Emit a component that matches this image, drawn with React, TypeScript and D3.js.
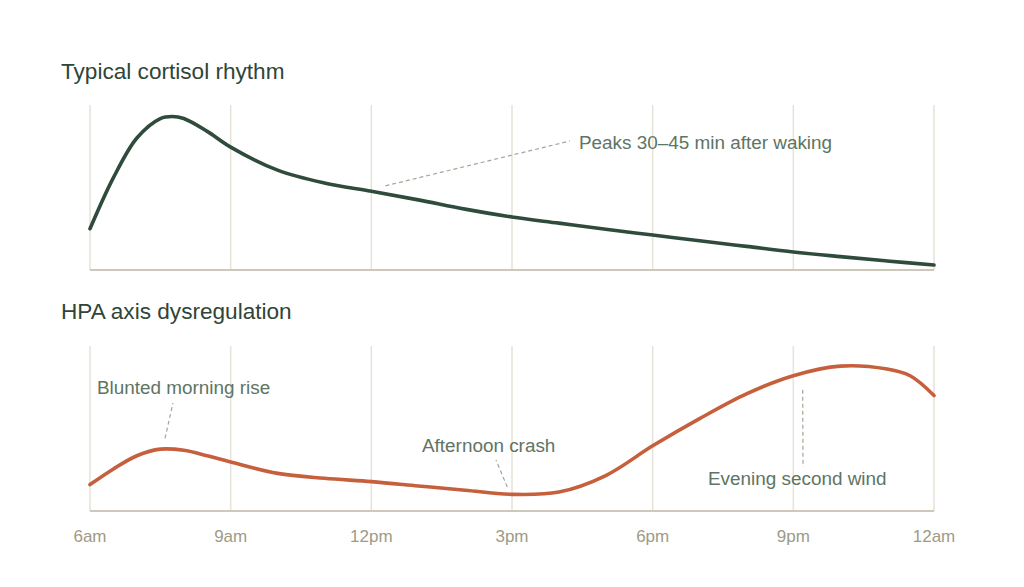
import { useEffect, useRef } from 'react'
import * as d3 from 'd3'

// hours since midnight (24 = midnight next day), level on a 0–100 scale
const typicalHours = [6, 6.5, 7, 7.5, 7.75, 8, 8.5, 9, 10, 11, 12, 13, 14, 15, 16, 17, 18, 19, 20, 21, 22, 23, 24]
const typicalLevels = [25, 56, 80, 91.8, 93, 91.8, 84, 74.5, 60.5, 52.7, 47.7, 42.5, 36.9, 32.1, 28.4, 24.7, 21.2, 17.7, 14.3, 10.9, 8.1, 5.5, 3]

const hpaHours = [6, 6.5, 7, 7.5, 8, 8.5, 9, 10, 11, 12, 13, 14, 15, 16, 17, 18, 19, 20, 21, 22, 23, 23.5, 24]
const hpaLevels = [16, 25.5, 33.5, 37.5, 36.8, 33.5, 29.7, 22.8, 19.8, 17.8, 15.2, 12.6, 10.1, 11.5, 21.5, 39.5, 56, 71, 82, 87.8, 86, 81.8, 70]

const tickHours = [6, 9, 12, 15, 18, 21, 24]
const tickLabels = ['6am', '9am', '12pm', '3pm', '6pm', '9pm', '12am']

const FONT = '"Liberation Sans", Arial, sans-serif'

export default function App() {
  const svgRef = useRef<SVGSVGElement>(null)

  useEffect(() => {
    const svg = d3.select(svgRef.current)
    svg.selectAll('*').remove()

    const x = d3.scaleLinear().domain([6, 24]).range([90, 934])

    const panels = [
      {
        title: 'Typical cortisol rhythm',
        titleY: 79,
        top: 105,
        bottom: 270,
        hours: typicalHours,
        levels: typicalLevels,
        color: '#2e4b3b',
      },
      {
        title: 'HPA axis dysregulation',
        titleY: 319,
        top: 346,
        bottom: 511,
        hours: hpaHours,
        levels: hpaLevels,
        color: '#c65f3c',
      },
    ]

    const scales = panels.map((p) => {
      const y = d3.scaleLinear().domain([0, 100]).range([p.bottom, p.top])

      svg.append('text')
        .attr('x', 61).attr('y', p.titleY)
        .attr('font-family', FONT).attr('font-size', 22.6)
        .attr('fill', '#2f4538')
        .text(p.title)

      // vertical gridlines
      svg.append('g')
        .selectAll('line')
        .data(tickHours)
        .join('line')
        .attr('x1', (d) => x(d)).attr('x2', (d) => x(d))
        .attr('y1', p.top).attr('y2', p.bottom)
        .attr('stroke', '#e6e2d8').attr('stroke-width', 1.5)

      // baseline
      svg.append('line')
        .attr('x1', x(6)).attr('x2', x(24))
        .attr('y1', p.bottom).attr('y2', p.bottom)
        .attr('stroke', '#cdc8ba').attr('stroke-width', 2)

      const line = d3.line<number>()
        .x((_, i) => x(p.hours[i]))
        .y((d) => y(d))
        .curve(d3.curveCatmullRom.alpha(0.5))

      svg.append('path')
        .datum(p.levels)
        .attr('d', line)
        .attr('fill', 'none')
        .attr('stroke', p.color)
        .attr('stroke-width', 3.6)
        .attr('stroke-linecap', 'round')
        .attr('stroke-linejoin', 'round')

      return y
    })

    const [yTop, yBottom] = scales

    // annotations: leader line from a point near the curve to the label
    const notes = [
      { text: 'Peaks 30–45 min after waking', tx: 579, ty: 148.5, y: yTop, h0: 12.3, v0: 51, x1: 570, y1: 141 },
      { text: 'Blunted morning rise', tx: 97, ty: 393.5, y: yBottom, h0: 7.6, v0: 44, x1: 173, y1: 403 },
      { text: 'Afternoon crash', tx: 422, ty: 451.5, y: yBottom, h0: 14.9, v0: 14.5, x1: 496, y1: 460 },
      { text: 'Evening second wind', tx: 708, ty: 484.5, y: yBottom, h0: 21.2, v0: 73.5, x1: 803, y1: 467 },
    ]

    notes.forEach((n) => {
      svg.append('line')
        .attr('x1', x(n.h0)).attr('y1', n.y(n.v0))
        .attr('x2', n.x1).attr('y2', n.y1)
        .attr('stroke', '#a8a496').attr('stroke-width', 1.2)
        .attr('stroke-dasharray', '4,3')
      svg.append('text')
        .attr('x', n.tx).attr('y', n.ty)
        .attr('font-family', FONT).attr('font-size', 18.9)
        .attr('fill', '#5e7465')
        .text(n.text)
    })

    // shared time axis
    svg.append('g')
      .selectAll('text')
      .data(tickHours)
      .join('text')
      .attr('x', (d) => x(d)).attr('y', 542)
      .attr('text-anchor', 'middle')
      .attr('font-family', FONT).attr('font-size', 17)
      .attr('fill', '#9e9a86')
      .text((_, i) => tickLabels[i])
  }, [])

  return (
    <svg
      ref={svgRef}
      width={1024}
      height={587}
      style={{ position: 'absolute', left: 0, top: 0, background: '#fff' }}
    />
  )
}
